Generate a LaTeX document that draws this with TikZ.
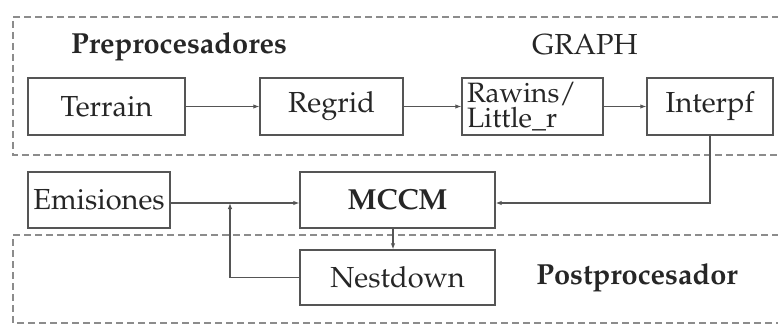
\documentclass[tikz,border=0pt]{standalone}
\IfFileExists{mathpazo.sty}{%
  \usepackage[T1]{fontenc}\usepackage{mathpazo}%
}{%
  \usepackage{fontspec}\setmainfont{Liberation Serif}%
}
\usetikzlibrary{arrows.meta}
\definecolor{boxline}{HTML}{555555}
\definecolor{frameline}{HTML}{8C8C8C}
\definecolor{txt}{HTML}{262626}
\newcommand{\labelfont}{\fontsize{29}{20}\selectfont}
\tikzset{
  stage/.style={draw=boxline, line width=1.4pt, minimum height=57pt,
    inner sep=0pt, text=txt, font=\labelfont},
  flow/.style={draw=boxline, line width=1.1pt,
    -{Latex[length=6pt,width=4.5pt]}},
  frame/.style={draw=frameline, line width=1.3pt, dash pattern=on 7pt off 4pt},
  title/.style={text=txt, font=\labelfont}
}
\begin{document}
\begin{tikzpicture}[x=1pt, y=-1pt]
\useasboundingbox (0,0) rectangle (778,326);
% dashed group frames, open on the right
\draw[frame] (790,17) -- (13,17) -- (13,155) -- (790,155);
\draw[frame] (790,235) -- (13,235) -- (13,323) -- (790,323);
% group titles
\node[title, font=\labelfont\bfseries] (pre) at (179,47) {Preprocesadores};
\node[title] (graph) at (585,45) {GRAPH};
\node[title, font=\labelfont\bfseries] (post) at (637,278) {Postprocesador};
% processing stages
\node[stage, minimum width=157pt] (terrain) at (106.5,106.5) {Terrain};
\node[stage, minimum width=143pt] (regrid) at (331.5,106.5) {Regrid};
\node[stage, minimum width=141pt, text width=131pt, align=left,
  font=\fontsize{28}{21}\selectfont] (rawins) at (532.5,106.5) {Rawins/\\Little\_r};
\node[stage, minimum width=126pt] (interpf) at (710,106.5) {Interpf};
\node[stage, minimum width=142pt, minimum height=56pt] (emis) at (99,200) {Emisiones};
\node[stage, minimum width=195pt, minimum height=56pt, font=\labelfont\bfseries] (mccm) at (397.5,200) {MCCM};
\node[stage, minimum width=195pt, minimum height=55pt] (nest) at (397.5,277.5) {Nestdown};
% connectors
\coordinate (join) at (230,203);
\draw[flow] (terrain.east) -- (regrid.west);
\draw[flow] (regrid.east) -- (rawins.west);
\draw[flow] (rawins.east) -- (interpf.west);
\draw[flow] (interpf.south) |- ([yshift=-3pt]mccm.east);
\draw[flow] ([yshift=-3pt]emis.east) -- ([yshift=-3pt]mccm.west);
\draw[flow] (nest.west) -| (join);
\draw[flow] (mccm.south -| 393,0) -- (nest.north -| 393,0);
\end{tikzpicture}
\end{document}
